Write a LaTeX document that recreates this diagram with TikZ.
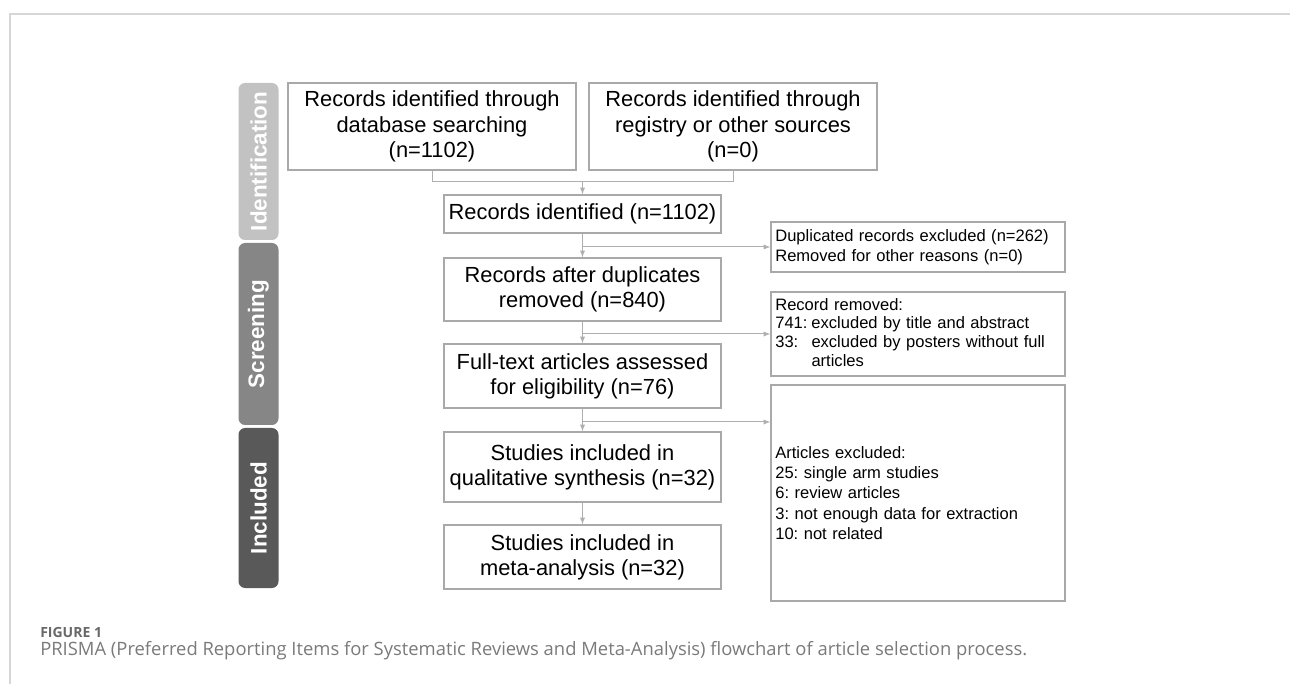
\documentclass[tikz,border=0pt]{standalone}
\usepackage{fontspec}
\setmainfont{Liberation Sans}
\newfontfamily\capfont{Open Sans}
\usetikzlibrary{positioning}
\definecolor{boxgray}{HTML}{A9A9A9}
\definecolor{linegray}{HTML}{AFAFAF}
\definecolor{idgray}{HTML}{C2C2C2}
\definecolor{scgray}{HTML}{868686}
\definecolor{ingray}{HTML}{595959}
\definecolor{capgray}{HTML}{7A7A7A}
\tikzset{
  mainbox/.style = {draw=boxgray, line width=1pt, align=center, inner sep=1pt,
    font=\fontsize{16.4}{18.9}\selectfont, minimum width=207.75pt},
  sidebox/.style = {draw=boxgray, line width=1pt, align=left, inner sep=3pt,
    font=\fontsize{12.4}{15.2}\selectfont\frenchspacing, minimum width=220.5pt, text width=214pt},
  phase/.style = {rounded corners=5pt, rotate=90, text=white, minimum height=30pt,
    font=\fontsize{16.8}{18}\selectfont\bfseries},
  conn/.style = {draw=linegray, line width=.75pt},
  arr/.style = {conn, ->, >=latex}
}
\begin{document}
\begin{tikzpicture}[x=.75pt, y=-.75pt]
  \useasboundingbox (0,0) rectangle (1290,684);
  % page frame
  \draw [draw=black!16, line width=1.2pt] (10,684) -- (10,14) -- (1290,14);

  % phases
  \node [phase, fill=idgray, minimum width=117.75pt] (idbar) at (258.5,161.5) {Identification};
  \node [phase, fill=scgray, minimum width=136.5pt] (scbar) at (258.5,334) {Screening};
  \node [phase, fill=ingray, minimum width=120pt] (inbar) at (258.5,508) {Included};

  % main column
  \node [mainbox, minimum width=216pt, minimum height=65.25pt] (dbase) at (432,126.5)
    {Records identified through\\database searching\\(n=1102)};
  \node [mainbox, minimum width=216pt, minimum height=65.25pt] (regis) at (733,126.5)
    {Records identified through\\registry or other sources\\(n=0)};
  \node [mainbox, minimum height=28.5pt] (ident) at (582.5,214) {Records identified (n=1102)};
  \node [mainbox, minimum height=47.25pt] (dedup) at (582.5,289.5)
    {Records after duplicates\\removed (n=840)};
  \node [mainbox, minimum height=48pt] (fulltext) at (582.5,376)
    {Full-text articles assessed\\for eligibility (n=76)};
  \node [mainbox, minimum height=52.5pt] (qualit) at (582.5,467)
    {Studies included in\\qualitative synthesis (n=32)};
  \node [mainbox, minimum height=48pt] (meta) at (582.5,557)
    {Studies included in\\meta-analysis (n=32)};

  % exclusions
  \node [sidebox, minimum height=37.5pt] (dupl) at (918,247)
    {Duplicated records excluded (n=262)\\Removed for other reasons (n=0)};
  \node [sidebox, minimum height=61.5pt] (screx) at (918,334)
    {\begin{tabular}{@{}l@{\hspace{3pt}}l@{}}
      \multicolumn{2}{@{}l}{Record removed:}\\[-1.2pt]
      741: & excluded by title and abstract\\[-1.2pt]
      33:  & excluded by posters without full\\[-1.2pt]
           & articles
    \end{tabular}};
  \node [sidebox, minimum height=162pt] (artex) at (918,493)
    {Articles excluded:\\25: single arm studies\\6: review articles\\
     3: not enough data for extraction\\10: not related};

  % connectors
  \coordinate (join) at (582.5,182);
  \coordinate (brfull) at (582.5,422);
  \draw [conn] (dbase.south) -- (dbase.south |- join) -- (regis.south |- join) -- (regis.south);
  \draw [arr] (join) -- (ident.north);
  \draw [arr] (ident) -- (dedup);
  \draw [arr] (dedup) -- (fulltext);
  \draw [arr] (fulltext) -- (qualit);
  \draw [arr] (qualit) -- (meta);
  \draw [arr] (ident.south |- dupl.west) -- (dupl.west);
  \draw [arr] (dedup.south |- screx.west) -- (screx.west);
  \draw [arr] (brfull) -- (brfull -| artex.west);

  % caption
  \node [anchor=base west, inner sep=0pt, text=capgray!85!black, font=\capfont\bfseries\fontsize{10.5}{12}\selectfont] (fignum) at (40,637) {FIGURE 1};
  \node [anchor=base west, inner sep=0pt, text=capgray, font=\capfont\fontsize{13.8}{15}\selectfont] (caption) at (40,655)
    {PRISMA (Preferred Reporting Items for Systematic Reviews and Meta-Analysis) flowchart of article selection process.};
\end{tikzpicture}
\end{document}
